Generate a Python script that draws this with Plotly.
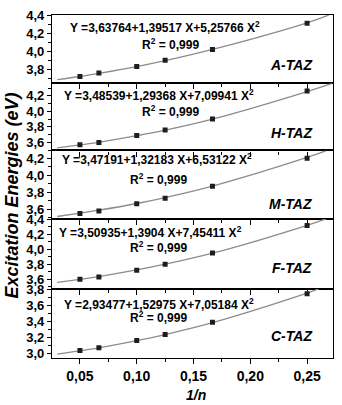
import plotly.graph_objects as go

# ---------------- data ----------------
panel_names = ["A-TAZ", "H-TAZ", "M-TAZ", "F-TAZ", "C-TAZ"]
inv_n = [0.05, 0.0667, 0.10, 0.125, 0.1667, 0.25]

a_taz = [3.72, 3.76, 3.83, 3.90, 4.02, 4.31]
h_taz = [3.57, 3.60, 3.69, 3.76, 3.90, 4.26]
m_taz = [3.55, 3.58, 3.665, 3.73, 3.87, 4.20]
f_taz = [3.60, 3.63, 3.72, 3.80, 3.95, 4.32]
c_taz = [3.035, 3.07, 3.16, 3.235, 3.39, 3.75]

# fitted curves
a_fit_x = [0.03, 0.05, 0.0667, 0.10, 0.125, 0.1667, 0.25, 0.269]
a_fit_y = [3.685, 3.72, 3.755, 3.83, 3.895, 4.02, 4.315, 4.40]
h_fit_x = [0.03, 0.05, 0.0667, 0.10, 0.125, 0.1667, 0.25, 0.272]
h_fit_y = [3.53, 3.568, 3.60, 3.686, 3.758, 3.90, 4.255, 4.36]
m_fit_x = [0.03, 0.05, 0.0667, 0.10, 0.125, 0.1667, 0.25, 0.267]
m_fit_y = [3.515, 3.554, 3.589, 3.668, 3.738, 3.873, 4.21, 4.29]
f_fit_x = [0.03, 0.05, 0.0667, 0.10, 0.125, 0.1667, 0.25, 0.2666]
f_fit_y = [3.557, 3.598, 3.635, 3.723, 3.80, 3.948, 4.323, 4.41]
c_fit_x = [0.03, 0.05, 0.0667, 0.10, 0.125, 0.1667, 0.25, 0.2602]
c_fit_y = [2.99, 3.03, 3.068, 3.158, 3.236, 3.386, 3.758, 3.81]

equations = [
    "Y =3,63764+1,39517 X+5,25766 X",
    "Y =3,48539+1,29368 X+7,09941 X",
    "Y =3,47191+1,32183 X+6,53122 X",
    "Y =3,50935+1,3904 X+7,45411 X",
    "Y =2,93477+1,52975 X+7,05184 X",
]
r2_text = "R<sup>2</sup> = 0,999"

y_ranges = [[3.646, 4.401], [3.497, 4.362], [3.49, 4.292], [3.47, 4.412], [2.94, 3.812]]
x_range = [0.0254, 0.2728]

x_title = "1/n"
y_title = "Excitation Energies (eV)"

# ---------------- layout geometry ----------------
W, H = 342, 405
L, R, T, B = 52, 8, 11, 47
domains = [[0.8012, 1.0], [0.6052, 0.8012], [0.4063, 0.6052], [0.2017, 0.4063], [0.0, 0.2017]]

FONT = "Arial, Liberation Sans, sans-serif"

pts = [a_taz, h_taz, m_taz, f_taz, c_taz]
fits = [(a_fit_x, a_fit_y), (h_fit_x, h_fit_y), (m_fit_x, m_fit_y), (f_fit_x, f_fit_y), (c_fit_x, c_fit_y)]

fig = go.Figure()
layout = dict(
    width=W, height=H,
    margin=dict(l=L, r=R, t=T, b=B),
    paper_bgcolor="white", plot_bgcolor="white",
    showlegend=False,
    separators=", ",
    font=dict(family=FONT, color="black"),
)

for i in range(5):
    k = "" if i == 0 else str(i + 1)
    xa, ya = "x" + k, "y" + k
    fx, fy = fits[i]
    fig.add_trace(go.Scatter(x=fx, y=fy, mode="lines", line=dict(color="#8c8c8c", width=1.3, shape="spline"),
                             xaxis=xa, yaxis=ya, hoverinfo="skip"))
    fig.add_trace(go.Scatter(x=inv_n, y=pts[i], mode="markers",
                             marker=dict(symbol="square", size=5, color="#1e1e1e"),
                             xaxis=xa, yaxis=ya))
    last = i == 4
    layout["xaxis" + k] = dict(
        range=x_range, anchor=ya, domain=[0, 1],
        showline=True, linecolor="black", linewidth=1.2, mirror=True,
        ticks="outside", ticklen=5, tickwidth=1, tickcolor="black",
        dtick=0.05, tick0=0, tickformat=".2f",
        minor=dict(dtick=0.025, tick0=0, ticks="outside", ticklen=3, tickcolor="black"),
        showticklabels=last, showgrid=False, zeroline=False,
        tickfont=dict(family=FONT, size=14, color="black", weight="bold"),
    )
    if not last:
        layout["xaxis" + k]["matches"] = "x5"
    layout["yaxis" + k] = dict(
        range=y_ranges[i], anchor=xa, domain=domains[i],
        showline=True, linecolor="black", linewidth=1.2, mirror=True,
        ticks="outside", ticklen=4, tickwidth=1, tickcolor="black",
        dtick=0.2, tick0=0, tickformat=".1f",
        minor=dict(dtick=0.1, tick0=0, ticks="outside", ticklen=2.5, tickcolor="black"),
        showgrid=False, zeroline=False,
        tickfont=dict(family=FONT, size=13, color="black", weight="bold"),
    )

fig.update_layout(**layout)

# window-pixel -> paper coordinates
def px_x(p):
    return (p - L) / (W - L - R)

def px_y(p):
    return (H - B - p) / (H - T - B)

eq_pos = [(68, 23), (62, 92.3), (60, 156.7), (57, 230.7), (62, 303.3)]
r2_pos = [(140, 40.7), (140, 108.3), (128, 176.7), (128, 246), (128, 316.7)]
lab_pos = [(315, 62), (315, 130), (315, 201.7), (315, 267.3), (315, 336)]

ann = []
for i in range(5):
    ann.append(dict(text="<b>" + equations[i] + "<sup>2</sup></b>", xref="paper", yref="paper",
                    x=px_x(eq_pos[i][0]), y=px_y(eq_pos[i][1]), xanchor="left", yanchor="middle",
                    showarrow=False, font=dict(family=FONT, size=12, color="black")))
    ann.append(dict(text="<b>" + r2_text + "</b>", xref="paper", yref="paper",
                    x=px_x(r2_pos[i][0]), y=px_y(r2_pos[i][1]), xanchor="left", yanchor="middle",
                    showarrow=False, font=dict(family=FONT, size=12, color="black")))
    ann.append(dict(text="<b><i>" + panel_names[i] + "</i></b>", xref="paper", yref="paper",
                    x=px_x(lab_pos[i][0]), y=px_y(lab_pos[i][1]), xanchor="right", yanchor="middle",
                    showarrow=False, font=dict(family=FONT, size=14, color="black")))

ann.append(dict(text="<b><i>" + x_title + "</i></b>", xref="paper", yref="paper",
                x=px_x(197), y=px_y(395), xanchor="center", yanchor="middle",
                showarrow=False, font=dict(family=FONT, size=14, color="black")))
ann.append(dict(text="<b><i>" + y_title + "</i></b>", xref="paper", yref="paper",
                x=px_x(12), y=px_y(193.5), xanchor="center", yanchor="middle", textangle=-90,
                showarrow=False, font=dict(family=FONT, size=18, color="black")))
fig.update_layout(annotations=ann)

# remove the browser's default 8px page margin so the figure sits at the window's corner
fig.write_html("out.html", config={"displayModeBar": False},
               post_script="document.body.style.margin='0';")
